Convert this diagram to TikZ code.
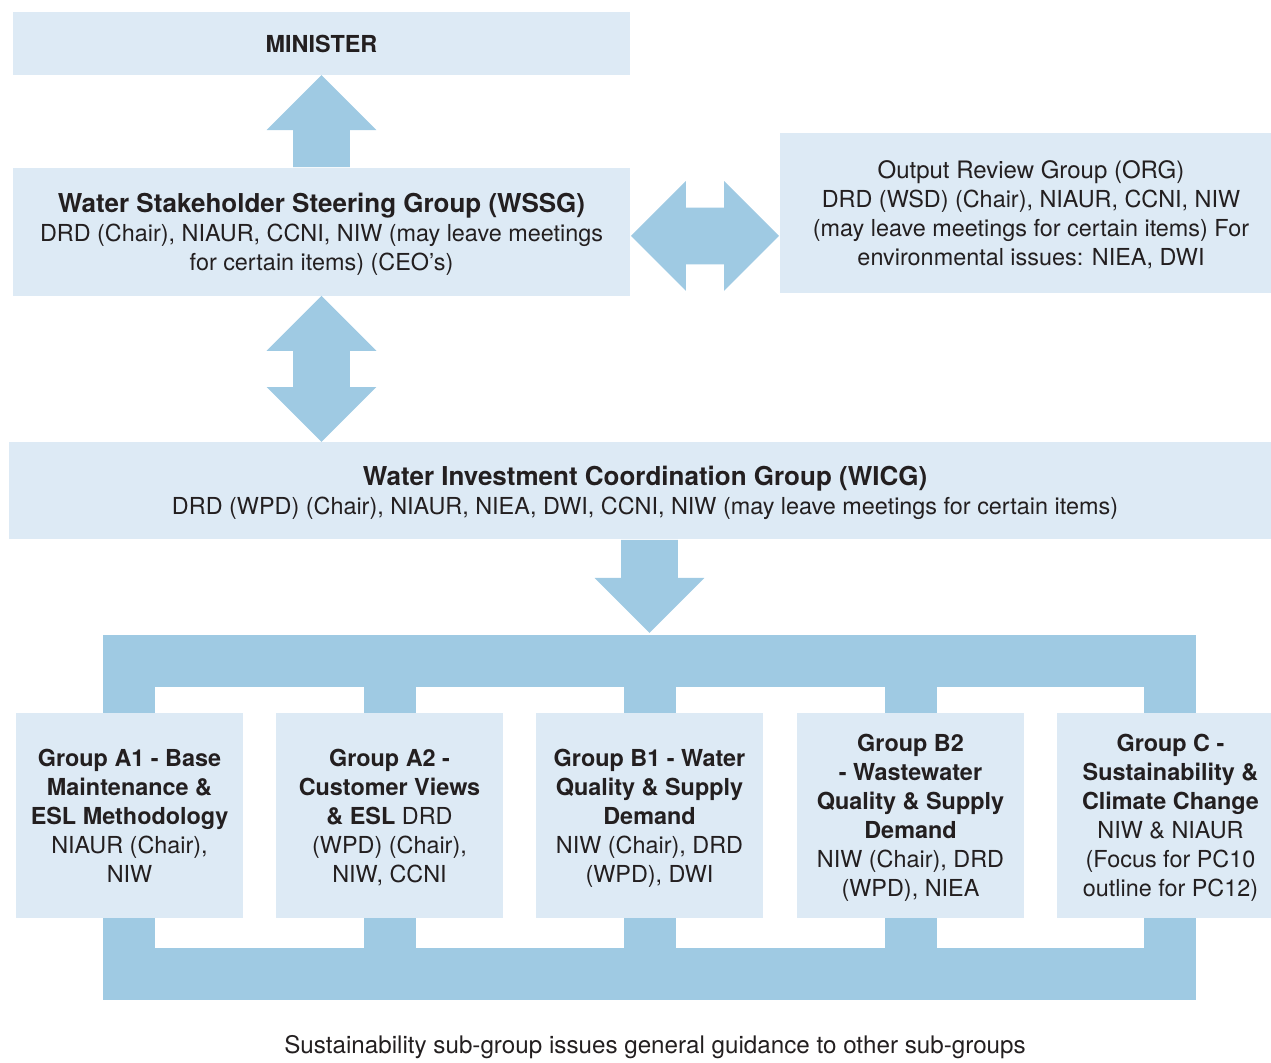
\documentclass[tikz,border=0pt]{standalone}
\usepackage{fontspec}
\setmainfont{TeX Gyre Heros}
\usepackage{xcolor}
\usetikzlibrary{shapes.arrows,positioning,calc}

\definecolor{boxblue}{HTML}{DDEAF5}
\definecolor{pipeblue}{HTML}{9FCAE3}
\definecolor{ink}{HTML}{231F20}

\newcommand{\grp}[1]{{\bfseries #1}}

\tikzset{
  panel/.style={fill=boxblue, inner sep=0pt, align=center, text=ink, text depth=0pt,
    font=\fontsize{11.7}{14.5}\selectfont},
  group/.style={panel, minimum width=113.5pt, minimum height=102.5pt},
  fatup/.style={single arrow, fill=pipeblue, inner xsep=0pt, inner ysep=14pt,
    single arrow head extend=13.25pt, minimum height=46pt, anchor=tail},
  fatboth/.style={double arrow, fill=pipeblue, inner xsep=0pt, inner ysep=14pt,
    double arrow head extend=13.25pt, minimum height=74pt},
  pipe/.style={draw=pipeblue, line width=26pt, line join=miter},
}

\begin{document}
\begin{tikzpicture}[x=0.5pt, y=-0.5pt]
    \useasboundingbox (0,0) rectangle (1271,1063);
    \clip (0,0) rectangle (1271,1063);

    % upper boxes
    \node[panel, minimum width=308.5pt, minimum height=31.5pt] (min) at (321.5,43.5) {\bfseries MINISTER};
    \node[panel, minimum width=308.5pt, minimum height=64pt] (wssg) at (321.5,232)
        {{\bfseries\fontsize{13}{14.5}\selectfont Water Stakeholder Steering Group (WSSG)}\\
         DRD (Chair), NIAUR, CCNI, NIW (may leave meetings\\ for certain items) (CEO’s)};
    \node[panel, minimum width=251pt, minimum height=80pt] (org) at (1031,213)
        {{\fontsize{12}{14.5}\selectfont Output Review Group (ORG)}\\ DRD (WSD) (Chair), NIAUR, CCNI, NIW\\
         (may leave meetings for certain items) For\\ environmental issues: NIEA, DWI};
    \node[panel, minimum width=636pt, minimum height=48.5pt] (wicg) at (645,490.5)
        {{\bfseries\fontsize{13}{14.5}\selectfont Water Investment Coordination Group (WICG)}\\
         DRD (WPD) (Chair), NIAUR, NIEA, DWI, CCNI, NIW (may leave meetings for certain items)};

    % frame round the sub-groups
    \coordinate (bustop) at (649.5,635);
    \draw[pipe] (129,661) rectangle (1170,974.5);

    % sub-groups
    \node[group] (a1) at (129.5,815.5) {\grp{Group A1 - Base}\\ \grp{Maintenance \&}\\ \grp{ESL Methodology}\\ NIAUR (Chair),\\ NIW};
    \node[group] (a2) at (389.5,815.5) {\grp{Group A2 -}\\ \grp{Customer Views}\\ \grp{\& ESL} DRD\\ (WPD) (Chair),\\ NIW, CCNI};
    \node[group] (b1) at (649.5,815.5) {\grp{Group B1 - Water}\\ \grp{Quality \& Supply}\\ \grp{Demand}\\ NIW (Chair), DRD\\ (WPD), DWI};
    \node[group] (b2) at (910.5,815.5) {\grp{Group B2}\\ \grp{- Wastewater}\\ \grp{Quality \& Supply}\\ \grp{Demand}\\ NIW (Chair), DRD\\ (WPD), NIEA};
    \node[group] (c) at (1170.5,815.5) {\grp{Group C -}\\ \grp{Sustainability \&}\\ \grp{Climate Change}\\ NIW \& NIAUR\\ (Focus for PC10\\ outline for PC12)};

    \foreach \g in {a2,b1,b2}{
        \draw[pipe] (\g.north) -- (\g.north |- 0,661);
        \draw[pipe] (\g.south) -- (\g.south |- 0,974.5);
    }

    % big arrows
    \node[fatup, rotate=90] (toMin) at (wssg.north) {};
    \path (wssg.south) -- (wssg.south |- wicg.north) node[midway, fatboth, minimum height=73pt, rotate=90] (wssgWicg) {};
    \path ([yshift=-2pt]wssg.east) -- ([yshift=-2pt]wssg.east -| org.west) node[midway, fatboth] (wssgOrg) {};
    \node[fatup, minimum height=46.5pt, rotate=-90] (toBus) at (wicg.south -| bustop) {};

    \node[text=ink, font=\fontsize{12.1}{14.5}\selectfont] (note) at (655,1047)
        {Sustainability sub-group issues general guidance to other sub-groups};
\end{tikzpicture}
\end{document}
